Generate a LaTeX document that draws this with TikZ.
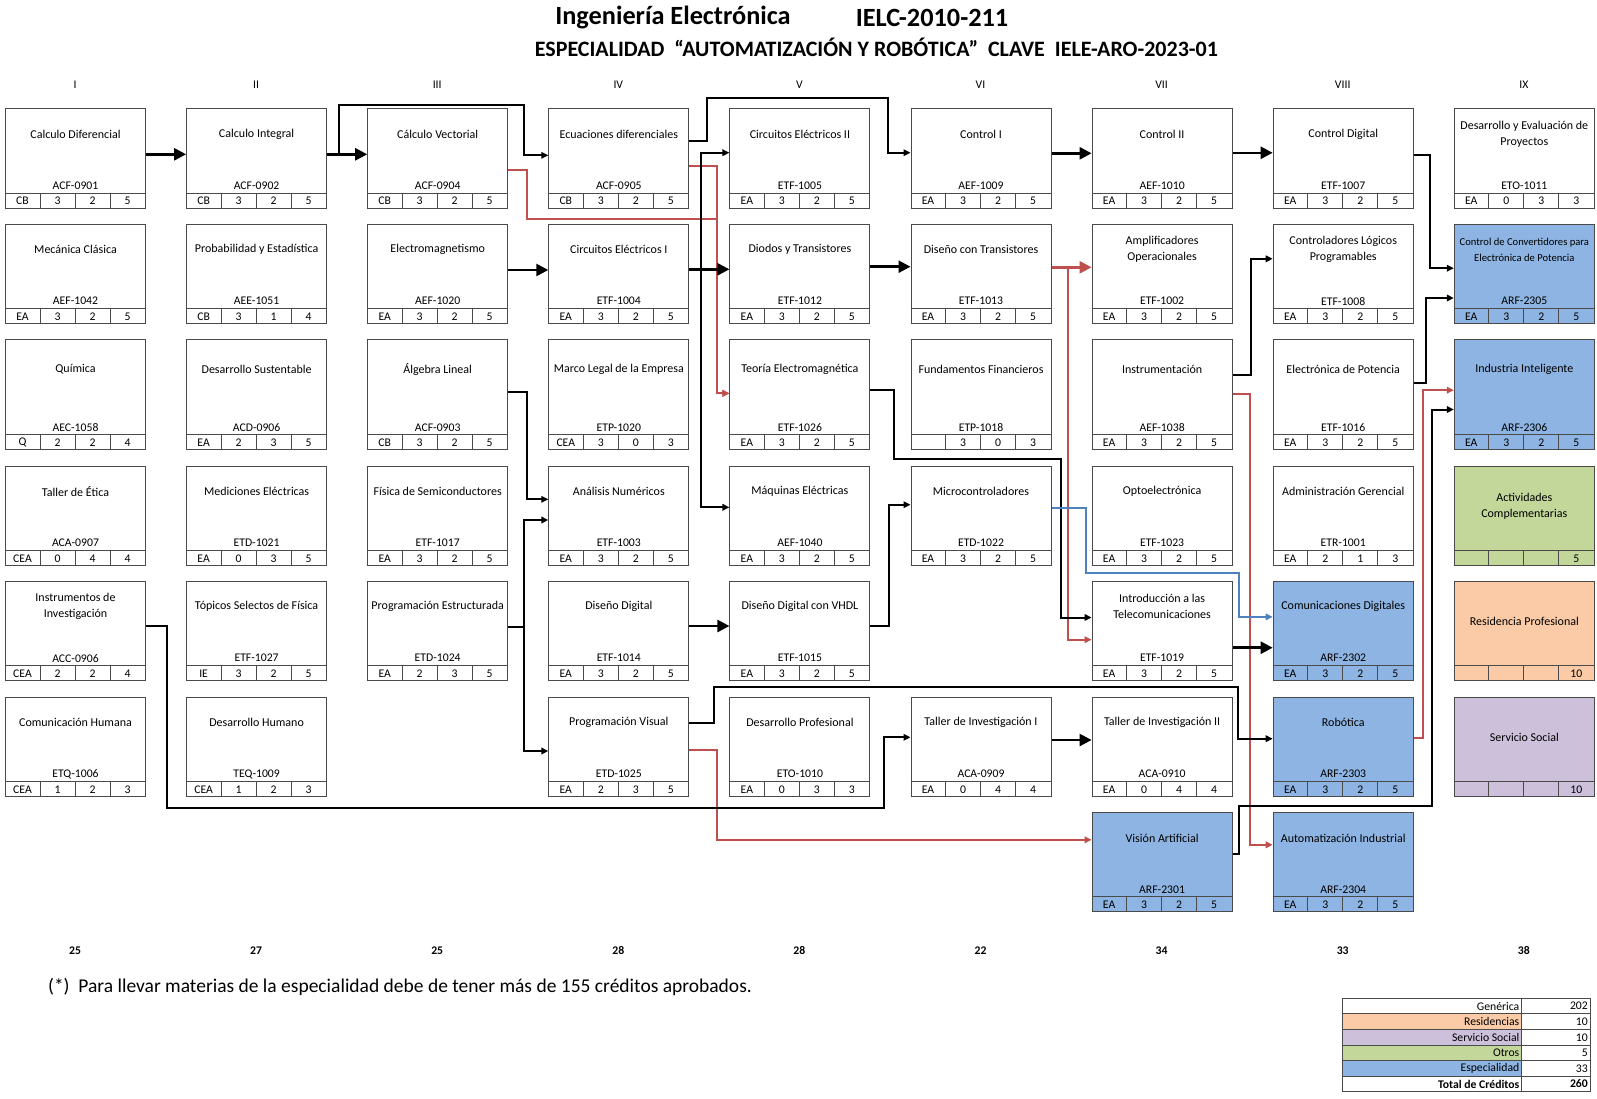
\documentclass[tikz,border=0pt]{standalone}
\usepackage{fontspec}
\setmainfont{Carlito}
\usetikzlibrary{positioning,calc,arrows.meta}

\definecolor{azulesp}{HTML}{8DB4E2}
\definecolor{verdeotros}{HTML}{C4D79B}
\definecolor{naranjares}{HTML}{FACBA6}
\definecolor{moradoss}{HTML}{CCC0DA}
\definecolor{rojoflecha}{HTML}{C0504D}
\definecolor{azulflecha}{HTML}{4F81BD}
\definecolor{bordecaja}{HTML}{4A4A4A}

\tikzset{
  caja/.style={rectangle, draw=bordecaja, line width=1pt, anchor=north west,
    minimum width=140pt, inner sep=0pt},
  titulo/.style={align=center, inner sep=0pt, font=\fontsize{12}{16}\selectfont},
  clave/.style={inner sep=0pt, font=\fontsize{11.7}{14}\selectfont},
  celda/.style={inner sep=0pt, font=\fontsize{11.7}{14}\selectfont},
  linea/.style={draw=bordecaja, line width=1pt},
  encab/.style={inner sep=0pt, font=\fontsize{11.7}{14}\selectfont},
  creditos/.style={inner sep=0pt, font=\fontsize{11.7}{14}\selectfont\bfseries},
  gruesa/.style={line width=2.5pt, -{Triangle[length=12pt,width=12pt]}},
  flecha/.style={line width=2pt, -{Triangle[length=7pt,width=6.5pt]}},
  roja/.style={flecha, draw=rojoflecha},
  gruesaroja/.style={gruesa, draw=rojoflecha},
  azul/.style={flecha, draw=azulflecha},
}

% \materia[title options]{name}{fill}{x}{y top}{height}{title}{code}{cells}
\newcommand{\materia}[9][]{%
  \node[caja, fill=#3, minimum height=#6pt] (#2) at (#4,-#5) {};
  \node[titulo, #1] (#2-t) at ([yshift=-26pt]#2.north) {#7};
  \node[clave] (#2-c) at ([yshift=23pt]#2.south) {#8};
  \draw[linea] ([yshift=15.5pt]#2.south west) -- ([yshift=15.5pt]#2.south east);
  \foreach \v [count=\i] in {#9} {
    \node[celda] (#2-\i) at ([xshift=\i*35pt-17.5pt, yshift=7.75pt]#2.south west) {\v};
    \ifnum\i>1 \draw[linea] ([xshift=\i*35pt-35pt]#2.south west) -- ++(0,15.5); \fi
  }%
}

\begin{document}
\begin{tikzpicture}[x=1pt, y=1pt]
  \useasboundingbox (0,0) rectangle (1597,-1098);

  % Titles
  \node[font=\fontsize{26.3}{30}\selectfont\bfseries, inner sep=0pt] (titulo1) at (673,-17.5) {Ingeniería Electrónica};
  \node[font=\fontsize{26.3}{30}\selectfont\bfseries, inner sep=0pt] (titulo2) at (932,-17.5) {IELC-2010-211};
  \node[font=\fontsize{22}{26}\selectfont\bfseries, inner sep=0pt] (titulo3) at (876.4,-47.5)
    {ESPECIALIDAD\ \ “AUTOMATIZACIÓN Y ROBÓTICA”\ \ CLAVE\ \ IELE-ARO-2023-01};

  % Semester headers and credits
  \foreach \r [count=\i] in {I,II,III,IV,V,VI,VII,VIII,IX}
    \node[encab] (enc\i) at ({75+181.1*(\i-1)},-84.5) {\r};
  \foreach \n [count=\i] in {25,27,25,28,28,22,34,33,38}
    \node[creditos] (cred\i) at ({75+181.1*(\i-1)},-950.3) {\n};

  % Semestre I
  \materia{cdif}{white}{5}{108.3}{99.4}{Calculo Diferencial}{ACF-0901}{CB,3,2,5}
  \materia{mecan}{white}{5}{223.7}{99.4}{Mecánica Clásica}{AEF-1042}{EA,3,2,5}
  \materia[yshift=-4pt]{quim}{white}{5}{339.3}{110}{Química}{AEC-1058}{Q,2,2,4}
  \materia{etica}{white}{5}{465.7}{99.4}{Taller de Ética}{ACA-0907}{CEA,0,4,4}
  \materia{instinv}{white}{5}{580.7}{99.4}{Instrumentos de\\Investigación}{ACC-0906}{CEA,2,2,4}
  \materia{comhum}{white}{5}{696.7}{99.4}{Comunicación Humana}{ETQ-1006}{CEA,1,2,3}

  % Semestre II
  \materia{cint}{white}{186.1}{108.3}{99.4}{Calculo Integral}{ACF-0902}{CB,3,2,5}
  \materia{probest}{white}{186.1}{223.7}{99.4}{Probabilidad y Estadística}{AEE-1051}{CB,3,1,4}
  \materia[yshift=-4pt]{dessust}{white}{186.1}{339.3}{110}{Desarrollo Sustentable}{ACD-0906}{EA,2,3,5}
  \materia{medelec}{white}{186.1}{465.7}{99.4}{Mediciones Eléctricas}{ETD-1021}{EA,0,3,5}
  \materia{topfis}{white}{186.1}{580.7}{99.4}{Tópicos Selectos de Física}{ETF-1027}{IE,3,2,5}
  \materia{deshum}{white}{186.1}{696.7}{99.4}{Desarrollo Humano}{TEQ-1009}{CEA,1,2,3}

  % Semestre III
  \materia{cvec}{white}{367.2}{108.3}{99.4}{Cálculo Vectorial}{ACF-0904}{CB,3,2,5}
  \materia{electromag}{white}{367.2}{223.7}{99.4}{Electromagnetismo}{AEF-1020}{EA,3,2,5}
  \materia[yshift=-4pt]{alglin}{white}{367.2}{339.3}{110}{Álgebra Lineal}{ACF-0903}{CB,3,2,5}
  \materia{fissemi}{white}{367.2}{465.7}{99.4}{Física de Semiconductores}{ETF-1017}{EA,3,2,5}
  \materia{progest}{white}{367.2}{580.7}{99.4}{Programación Estructurada}{ETD-1024}{EA,2,3,5}

  % Semestre IV
  \materia{ecdif}{white}{548.3}{108.3}{99.4}{Ecuaciones diferenciales}{ACF-0905}{CB,3,2,5}
  \materia{circ1}{white}{548.3}{223.7}{99.4}{Circuitos Eléctricos I}{ETF-1004}{EA,3,2,5}
  \materia[yshift=-4pt]{marcolegal}{white}{548.3}{339.3}{110}{Marco Legal de la Empresa}{ETP-1020}{CEA,3,0,3}
  \materia{anum}{white}{548.3}{465.7}{99.4}{Análisis Numéricos}{ETF-1003}{EA,3,2,5}
  \materia{disdig}{white}{548.3}{580.7}{99.4}{Diseño Digital}{ETF-1014}{EA,3,2,5}
  \materia{progvis}{white}{548.3}{696.7}{99.4}{Programación Visual}{ETD-1025}{EA,2,3,5}

  % Semestre V
  \materia{circ2}{white}{729.4}{108.3}{99.4}{Circuitos Eléctricos II}{ETF-1005}{EA,3,2,5}
  \materia{diodos}{white}{729.4}{223.7}{99.4}{Diodos y Transistores}{ETF-1012}{EA,3,2,5}
  \materia[yshift=-4pt]{teoria}{white}{729.4}{339.3}{110}{Teoría Electromagnética}{ETF-1026}{EA,3,2,5}
  \materia{maquinas}{white}{729.4}{465.7}{99.4}{Máquinas Eléctricas}{AEF-1040}{EA,3,2,5}
  \materia{vhdl}{white}{729.4}{580.7}{99.4}{Diseño Digital con VHDL}{ETF-1015}{EA,3,2,5}
  \materia{desprof}{white}{729.4}{696.7}{99.4}{Desarrollo Profesional}{ETO-1010}{EA,0,3,3}

  % Semestre VI
  \materia{ctrl1}{white}{910.5}{108.3}{99.4}{Control I}{AEF-1009}{EA,3,2,5}
  \materia{distran}{white}{910.5}{223.7}{99.4}{Diseño con Transistores}{ETF-1013}{EA,3,2,5}
  \materia[yshift=-4pt]{fundfin}{white}{910.5}{339.3}{110}{Fundamentos Financieros}{ETP-1018}{,3,0,3}
  \materia{micro}{white}{910.5}{465.7}{99.4}{Microcontroladores}{ETD-1022}{EA,3,2,5}
  \materia{tinv1}{white}{910.5}{696.7}{99.4}{Taller de Investigación I}{ACA-0909}{EA,0,4,4}

  % Semestre VII
  \materia{ctrl2}{white}{1091.6}{108.3}{99.4}{Control II}{AEF-1010}{EA,3,2,5}
  \materia{amplif}{white}{1091.6}{223.7}{99.4}{Amplificadores\\Operacionales}{ETF-1002}{EA,3,2,5}
  \materia[yshift=-4pt]{instrum}{white}{1091.6}{339.3}{110}{Instrumentación}{AEF-1038}{EA,3,2,5}
  \materia{opto}{white}{1091.6}{465.7}{99.4}{Optoelectrónica}{ETF-1023}{EA,3,2,5}
  \materia{intro}{white}{1091.6}{580.7}{99.4}{Introducción a las\\Telecomunicaciones}{ETF-1019}{EA,3,2,5}
  \materia{tinv2}{white}{1091.6}{696.7}{99.4}{Taller de Investigación II}{ACA-0910}{EA,0,4,4}
  \materia{vision}{azulesp}{1091.6}{812}{99.4}{Visión Artificial}{ARF-2301}{EA,3,2,5}

  % Semestre VIII
  \materia{ctrldig}{white}{1272.7}{108.3}{99.4}{Control Digital}{ETF-1007}{EA,3,2,5}
  \materia{plc}{white}{1272.7}{223.7}{99.4}{Controladores Lógicos\\Programables}{ETF-1008}{EA,3,2,5}
  \materia[yshift=-4pt]{elpot}{white}{1272.7}{339.3}{110}{Electrónica de Potencia}{ETF-1016}{EA,3,2,5}
  \materia{admin}{white}{1272.7}{465.7}{99.4}{Administración Gerencial}{ETR-1001}{EA,2,1,3}
  \materia{comdig}{azulesp}{1272.7}{580.7}{99.4}{Comunicaciones Digitales}{ARF-2302}{EA,3,2,5}
  \materia{robot}{azulesp}{1272.7}{696.7}{99.4}{Robótica}{ARF-2303}{EA,3,2,5}
  \materia{autom}{azulesp}{1272.7}{812}{99.4}{Automatización Industrial}{ARF-2304}{EA,3,2,5}

  % Semestre IX
  \materia{despro}{white}{1453.8}{108.3}{99.4}{Desarrollo y Evaluación de\\Proyectos}{ETO-1011}{EA,0,3,3}
  \materia[font=\fontsize{10.6}{16}\selectfont]{convert}{azulesp}{1453.8}{223.7}{99.4}{Control de Convertidores para\\Electrónica de Potencia}{ARF-2305}{EA,3,2,5}
  \materia[yshift=-4pt]{industria}{azulesp}{1453.8}{339.3}{110}{Industria Inteligente}{ARF-2306}{EA,3,2,5}
  \materia[yshift=-14.5pt]{actcomp}{verdeotros}{1453.8}{465.7}{99.4}{Actividades\\Complementarias}{}{,,,5}
  \materia[yshift=-14.5pt]{residencia}{naranjares}{1453.8}{580.7}{99.4}{Residencia Profesional}{}{,,,10}
  \materia[yshift=-14.5pt]{servsoc}{moradoss}{1453.8}{696.7}{99.4}{Servicio Social}{}{,,,10}

  % Seriation, first row
  \draw[gruesa] ([yshift=-46pt]cdif.north east) -- ([yshift=-46pt]cint.north west);
  \draw[gruesa] ([yshift=-46pt]cint.north east) -- ([yshift=-46pt]cvec.north west);
  \draw[flecha] ([yshift=-46pt]cint.north east) -- ++(12,0) -- ++(0,49.5)
    -| ([xshift=-24pt,yshift=-47pt]ecdif.north west) -- ([yshift=-47pt]ecdif.north west);
  \draw[roja] ([yshift=-62pt]cvec.north east) -- ++(19,0) -- ++(0,-48.5) -- ++(189.5,0)
    |- ([yshift=-54pt]teoria.north west);
  \draw[roja] ([yshift=-57.5pt]ecdif.north east) -- ++(27.4,0) |- ([yshift=-54pt]teoria.north west);
  \draw[flecha] ([yshift=-32.7pt]ecdif.north east) -- ++(17.4,0) -- ++(0,43)
    -| ([xshift=-22.8pt,yshift=-44.4pt]ctrl1.north west) -- ([yshift=-44.4pt]ctrl1.north west);
  \draw[gruesa] ([yshift=-45pt]ctrl1.north east) -- ([yshift=-45pt]ctrl2.north west);
  \draw[gruesa] ([yshift=-44.5pt]ctrl2.north east) -- ([yshift=-44.5pt]ctrldig.north west);
  \draw[flecha] ([yshift=-46.2pt]ctrldig.north east) -- ++(16.6,0) |- ([yshift=-44.5pt]convert.north west);

  % Circuits and electronics
  \draw[gruesa] ([yshift=-46.3pt]electromag.north east) -- ([yshift=-46.3pt]circ1.north west);
  \draw[gruesa] ([yshift=-45.6pt]circ1.north east) -- ([yshift=-45.6pt]diodos.north west);
  \draw[flecha] ([yshift=-45.6pt]circ1.north east) -- ++(11.7,0) |- ([yshift=-44.4pt]circ2.north west);
  \draw[flecha] ([yshift=-45.6pt]circ1.north east) -- ++(11.7,0) |- ([yshift=-41.6pt]maquinas.north west);
  \draw[gruesa] ([yshift=-43pt]diodos.north east) -- ([yshift=-43pt]distran.north west);
  \draw[gruesaroja] ([yshift=-43.6pt]distran.north east) -- ([yshift=-43.6pt]amplif.north west);
  \draw[roja] ([yshift=-43.6pt]distran.north east) -- ++(16.8,0) |- ([yshift=-59pt]intro.north west);
  \draw[flecha] ([yshift=-50.8pt]teoria.north east) -- ++(23.9,0) -- ++(0,-69.2)
    -| ([xshift=-30.9pt,yshift=-36.8pt]intro.north west) -- ([yshift=-36.8pt]intro.north west);
  \draw[flecha] ([yshift=-35.9pt]instrum.north east) -- ++(18.4,0) |- ([yshift=-35.1pt]plc.north west);
  \draw[roja] ([yshift=-54.3pt]instrum.north east) -- ++(17.7,0) |- ([yshift=-32.8pt]autom.north west);
  \draw[flecha] ([yshift=-43.3pt]elpot.north east) -- ++(11.8,0) |- ([yshift=-74.3pt]convert.north west);

  % Programming and digital
  \draw[flecha] ([yshift=-52.4pt]alglin.north east) -- ++(19,0) |- ([yshift=-33.6pt]anum.north west);
  \draw[flecha] ([yshift=-46pt]progest.north east) -- ++(16.1,0) |- ([yshift=-54.3pt]anum.north west);
  \draw[flecha] ([yshift=-46pt]progest.north east) -- ++(16.1,0) |- ([yshift=-54.3pt]progvis.north west);
  \draw[gruesa] ([yshift=-45.3pt]disdig.north east) -- ([yshift=-45.3pt]vhdl.north west);
  \draw[flecha] ([yshift=-45pt]vhdl.north east) -- ++(18.3,0) |- ([yshift=-39pt]micro.north west);
  \draw[azul] ([yshift=-42.7pt]micro.north east) -- ++(34.5,0) -- ++(0,-64.8)
    -| ([xshift=-33.4pt,yshift=-36.2pt]comdig.north west) -- ([yshift=-36.2pt]comdig.north west);
  \draw[gruesa] ([yshift=-67pt]intro.north east) -- ([yshift=-67pt]comdig.north west);
  \draw[flecha] ([yshift=-25.8pt]progvis.north east) -- ++(24.7,0) -- ++(0,35.5)
    -| ([xshift=-35pt,yshift=-42pt]robot.north west) -- ([yshift=-42pt]robot.north west);
  \draw[roja] ([yshift=-53.3pt]progvis.north east) -- ++(27.7,0) |- ([yshift=-27.8pt]vision.north west);

  % Research and specialty
  \draw[flecha] ([yshift=-45.3pt]instinv.north east) -- ++(21,0) -- ++(0,-182.3)
    -| ([xshift=-26.5pt,yshift=-40.6pt]tinv1.north west) -- ([yshift=-40.6pt]tinv1.north west);
  \draw[gruesa] ([yshift=-43.3pt]tinv1.north east) -- ([yshift=-43.3pt]tinv2.north west);
  \draw[roja] ([yshift=-41.1pt]robot.north east) -- ++(9,0) |- ([yshift=-50.9pt]industria.north west);
  \draw[flecha] ([yshift=-42.3pt]vision.north east) -- ++(6.1,0) -- ++(0,48.5)
    -| ([xshift=-22.1pt,yshift=-70.2pt]industria.north west) -- ([yshift=-70.2pt]industria.north west);

  % Footnote
  \node[anchor=west, inner sep=0pt, font=\fontsize{19.5}{22}\selectfont] (nota) at (47.9,-987)
    {(*)\ \ Para llevar materias de la especialidad debe de tener más de 155 créditos aprobados.};

  % Credit summary
  \foreach \et/\val/\col [count=\i] in {Genérica/202/white, Residencias/10/naranjares,
      Servicio Social/10/moradoss, Otros/5/verdeotros, Especialidad/33/azulesp} {
    \draw[linea, fill=\col] (1342.7,{-998.3-15.57*(\i-1)}) rectangle (1521.7,{-998.3-15.57*\i});
    \draw[linea] (1521.7,{-998.3-15.57*(\i-1)}) rectangle (1590,{-998.3-15.57*\i});
    \node[celda, anchor=east] (tab\i a) at (1519.5,{-1006.1-15.57*(\i-1)}) {\et};
    \node[celda, anchor=east] (tab\i b) at (1588,{-1006.1-15.57*(\i-1)}) {\val};
  }
  \draw[linea] (1342.7,-1076.2) rectangle (1521.7,-1091.7);
  \draw[linea] (1521.7,-1076.2) rectangle (1590,-1091.7);
  \node[celda, anchor=east, font=\fontsize{11.7}{14}\selectfont\bfseries] (tab6a) at (1519.5,-1084) {Total de Créditos};
  \node[celda, anchor=east, font=\fontsize{11.7}{14}\selectfont\bfseries] (tab6b) at (1588,-1084) {260};
\end{tikzpicture}
\end{document}
